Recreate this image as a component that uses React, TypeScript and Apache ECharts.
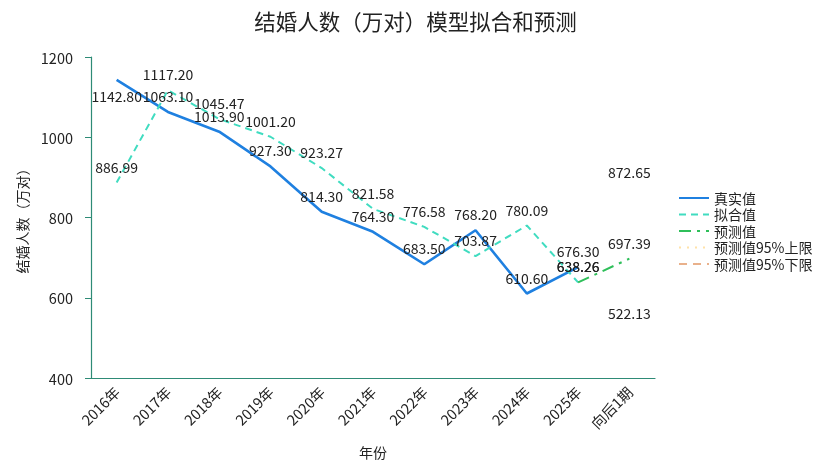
import React, { useEffect, useRef } from "react";
import * as echarts from "echarts";

const categories = ["2016年", "2017年", "2018年", "2019年", "2020年", "2021年", "2022年", "2023年", "2024年", "2025年", "向后1期"];
const actualValues = [1142.8, 1063.1, 1013.9, 927.3, 814.3, 764.3, 683.5, 768.2, 610.6, 676.3, null];
const fittedValues = [886.99, 1117.2, 1045.47, 1001.2, 923.27, 821.58, 776.58, 703.87, 780.09, 638.26, null];
const predictedValues = [null, null, null, null, null, null, null, null, null, 638.26, 697.39];
const upperValues = [null, null, null, null, null, null, null, null, null, null, 872.65];
const lowerValues = [null, null, null, null, null, null, null, null, null, null, 522.13];
const yTicks = { min: 400, max: 1200, interval: 200 };

const FONT = '"Noto Sans CJK SC", "Noto Sans", sans-serif';

export default function App() {
  const ref = useRef<HTMLDivElement>(null);
  useEffect(() => {
    if (!ref.current) return;
    const chart = echarts.init(ref.current, null, { renderer: "svg" });
    const label = {
      show: true,
      position: "top",
      distance: 9,
      fontSize: 14,
      color: "#222",
      fontFamily: FONT,
      formatter: (p: any) => (p.value == null ? "" : Number(p.value).toFixed(2)),
    };
    const mk = (name: string, vals: any[], color: string, lineStyle: any) => ({
      name,
      type: "line",
      data: vals,
      symbol: "circle",
      symbolSize: 0,
      color,
      lineStyle: { color, ...lineStyle },
      itemStyle: { color },
      label,
      connectNulls: false,
    });
    const actualData = actualValues.map((v, i) =>
      i === 0 ? { value: v, label: { position: "bottom", distance: 9 } } : v
    );
    chart.setOption({
      animation: false,
      textStyle: { fontFamily: FONT },
      title: {
        text: "结婚人数（万对）模型拟合和预测",
        left: "center",
        top: 5,
        textStyle: { fontSize: 21.5, fontWeight: "normal", color: "#222", fontFamily: FONT },
      },
      legend: {
        orient: "vertical",
        left: 673,
        top: 186,
        itemWidth: 30,
        itemHeight: 14,
        itemGap: 2.5,
        itemStyle: { opacity: 0 },
        textStyle: { fontSize: 14, color: "#222", fontFamily: FONT },
        data: ["真实值", "拟合值", "预测值", "预测值95%上限", "预测值95%下限"],
      },
      grid: { left: 91, right: 176, top: 57, bottom: 90, containLabel: false },
      xAxis: {
        type: "category",
        data: categories,
        boundaryGap: true,
        name: "年份",
        nameLocation: "middle",
        nameGap: 67,
        nameTextStyle: { fontSize: 14, color: "#222", fontFamily: FONT },
        axisLine: { lineStyle: { color: "#2e8b76", width: 1.2 } },
        axisTick: { alignWithLabel: true, length: 5, lineStyle: { color: "#2e8b76" } },
        axisLabel: { rotate: 45, fontSize: 14.5, color: "#222", margin: 11, fontFamily: FONT },
      },
      yAxis: {
        type: "value",
        min: yTicks.min,
        max: yTicks.max,
        interval: yTicks.interval,
        name: "结婚人数（万对）",
        nameLocation: "middle",
        nameGap: 62,
        nameTextStyle: { fontSize: 14, color: "#222", fontFamily: FONT },
        axisLine: { show: true, lineStyle: { color: "#2e8b76", width: 1.2 } },
        axisTick: { show: true, length: 6, lineStyle: { color: "#2e8b76" } },
        axisLabel: { fontSize: 14.5, color: "#222", margin: 18, fontFamily: FONT, formatter: (v: number) => String(v) },
        splitLine: { show: false },
      },
      series: [
        mk("真实值", actualData, "#1f80e0", { width: 2.6, type: "solid" }),
        mk("拟合值", fittedValues, "#40dcc0", { width: 2, type: [7, 5] }),
        mk("预测值", predictedValues, "#2fbf5a", { width: 2, type: [12, 6, 3, 6] }),
        mk("预测值95%上限", upperValues, "#ffcf70", { width: 2, type: [2, 6], opacity: 0.6 }),
        mk("预测值95%下限", lowerValues, "#e0905a", { width: 2, type: [8, 6], opacity: 0.7 }),
      ],
    });
    return () => chart.dispose();
  }, []);
  return <div ref={ref} style={{ position: "fixed", left: 0, top: 0, width: 831, height: 468 }} />;
}
